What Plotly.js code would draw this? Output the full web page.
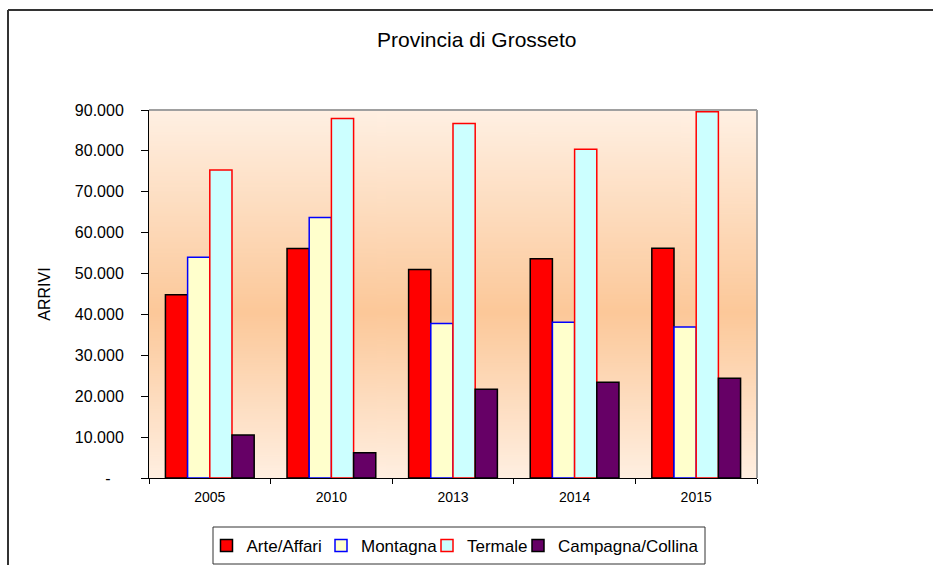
<!DOCTYPE html>
<html>
<head>
<meta charset="utf-8">
<script src="https://cdn.plot.ly/plotly-3.0.1.min.js"></script>
<style>html,body{margin:0;padding:0;background:#fff;}#chart{width:933px;height:565px;}</style>
</head>
<body>
<div id="chart"></div>
<script>
const years = ['2005', '2010', '2013', '2014', '2015'];
const seriesNames = ['Arte/Affari', 'Montagna', 'Termale', 'Campagna/Collina'];
const arteAffari = [44800, 56100, 51000, 53600, 56200];
const montagna = [54000, 63700, 37800, 38100, 36900];
const termale = [75300, 87900, 86700, 80400, 89600];
const campagnaCollina = [10500, 6200, 21700, 23400, 24400];
const yTickVals = [0, 10000, 20000, 30000, 40000, 50000, 60000, 70000, 80000, 90000];
const yTickText = ['-\u00a0\u00a0\u00a0', '10.000', '20.000', '30.000', '40.000', '50.000', '60.000', '70.000', '80.000', '90.000'];

// vertical gradient for the plot background
const cv = document.createElement('canvas');
cv.width = 4; cv.height = 400;
const ctx = cv.getContext('2d');
const g = ctx.createLinearGradient(0, 0, 0, 400);
g.addColorStop(0, '#FFF0E3');
g.addColorStop(0.55, '#FCC899');
g.addColorStop(1, '#FFEFE1');
ctx.fillStyle = g; ctx.fillRect(0, 0, 4, 400);
const bgUrl = cv.toDataURL('image/png');

const FONT = 'Liberation Sans, Arial, sans-serif';
function bar(name, vals, fill, line, leg) {
  return {type: 'bar', name: name, x: years, y: vals, legend: leg,
    marker: {color: fill, line: {color: line, width: 1.5}}, hoverinfo: 'x+y'};
}
const data = [
  bar(seriesNames[0], arteAffari, '#FF0000', '#000000', 'legend'),
  bar(seriesNames[1], montagna, '#FFFFCC', '#0000FF', 'legend2'),
  bar(seriesNames[2], termale, '#CCFFFF', '#FF0000', 'legend3'),
  bar(seriesNames[3], campagnaCollina, '#660066', '#000000', 'legend4')
];
const px = p => (p - 149) / 608;
const py = p => (478 - p) / 368;
function leg(symCenter) {
  return {orientation: 'h', xref: 'container', yref: 'container', x: (symCenter - 20) / 933, xanchor: 'left',
    y: 1 - 528 / 565, yanchor: 'top', font: {family: FONT, size: 17, color: '#000'},
    borderwidth: 0, bgcolor: 'rgba(0,0,0,0)', itemwidth: 30};
}
const layout = {
  width: 933, height: 565,
  margin: {l: 149, r: 176, t: 110, b: 87, pad: 0},
  paper_bgcolor: '#ffffff', plot_bgcolor: 'rgba(0,0,0,0)',
  font: {family: FONT, color: '#000'},
  title: {text: 'Provincia di Grosseto', font: {family: FONT, size: 21, color: '#000'},
    x: 0.511, xanchor: 'center', y: 1 - 40 / 565, yanchor: 'middle', xref: 'container', yref: 'container'},
  barmode: 'group', bargap: 0.27, bargroupgap: 0,
  xaxis: {type: 'category', tickson: 'boundaries', ticks: 'outside', ticklen: 5, tickcolor: '#000',
    showline: true, linecolor: '#000', linewidth: 1, showgrid: false, zeroline: false,
    tickfont: {family: FONT, size: 14, color: '#000'}, ticklabelstandoff: 6, fixedrange: true},
  yaxis: {range: [0, 90000], tickvals: yTickVals, ticktext: yTickText, ticks: 'outside', ticklen: 7,
    tickcolor: '#000', showline: true, linecolor: '#000', linewidth: 1, showgrid: false, zeroline: false,
    tickfont: {family: FONT, size: 16, color: '#000'}, ticklabelstandoff: 14, fixedrange: true,
    title: {text: 'ARRIVI', font: {family: FONT, size: 16, color: '#000'}, standoff: 20}},
  showlegend: true,
  legend: leg(226.5),
  legend2: leg(341),
  legend3: leg(447),
  legend4: leg(538),
  images: [{source: bgUrl, xref: 'paper', yref: 'paper', x: 0, y: 1, sizex: 1, sizey: 1,
    sizing: 'stretch', layer: 'below', xanchor: 'left', yanchor: 'top'}],
  shapes: [
    {type: 'line', xref: 'paper', yref: 'paper', x0: 0, x1: 1, y0: 1, y1: 1, line: {color: '#A0A0A0', width: 2}},
    {type: 'line', xref: 'paper', yref: 'paper', x0: 1, x1: 1, y0: 0, y1: 1, line: {color: '#A0A0A0', width: 2}},
    {type: 'line', xref: 'paper', yref: 'paper', x0: px(8), x1: px(8), y0: py(10), y1: py(570), line: {color: '#333', width: 2}},
    {type: 'line', xref: 'paper', yref: 'paper', x0: px(8), x1: px(940), y0: py(10), y1: py(10), line: {color: '#333', width: 2}},
    {type: 'rect', xref: 'paper', yref: 'paper', x0: px(213), x1: px(705), y0: py(527), y1: py(564),
      line: {color: '#333', width: 1}, fillcolor: 'rgba(0,0,0,0)'}
  ]
};
Plotly.newPlot('chart', data, layout, {displayModeBar: false, staticPlot: true});
</script>
</body>
</html>
